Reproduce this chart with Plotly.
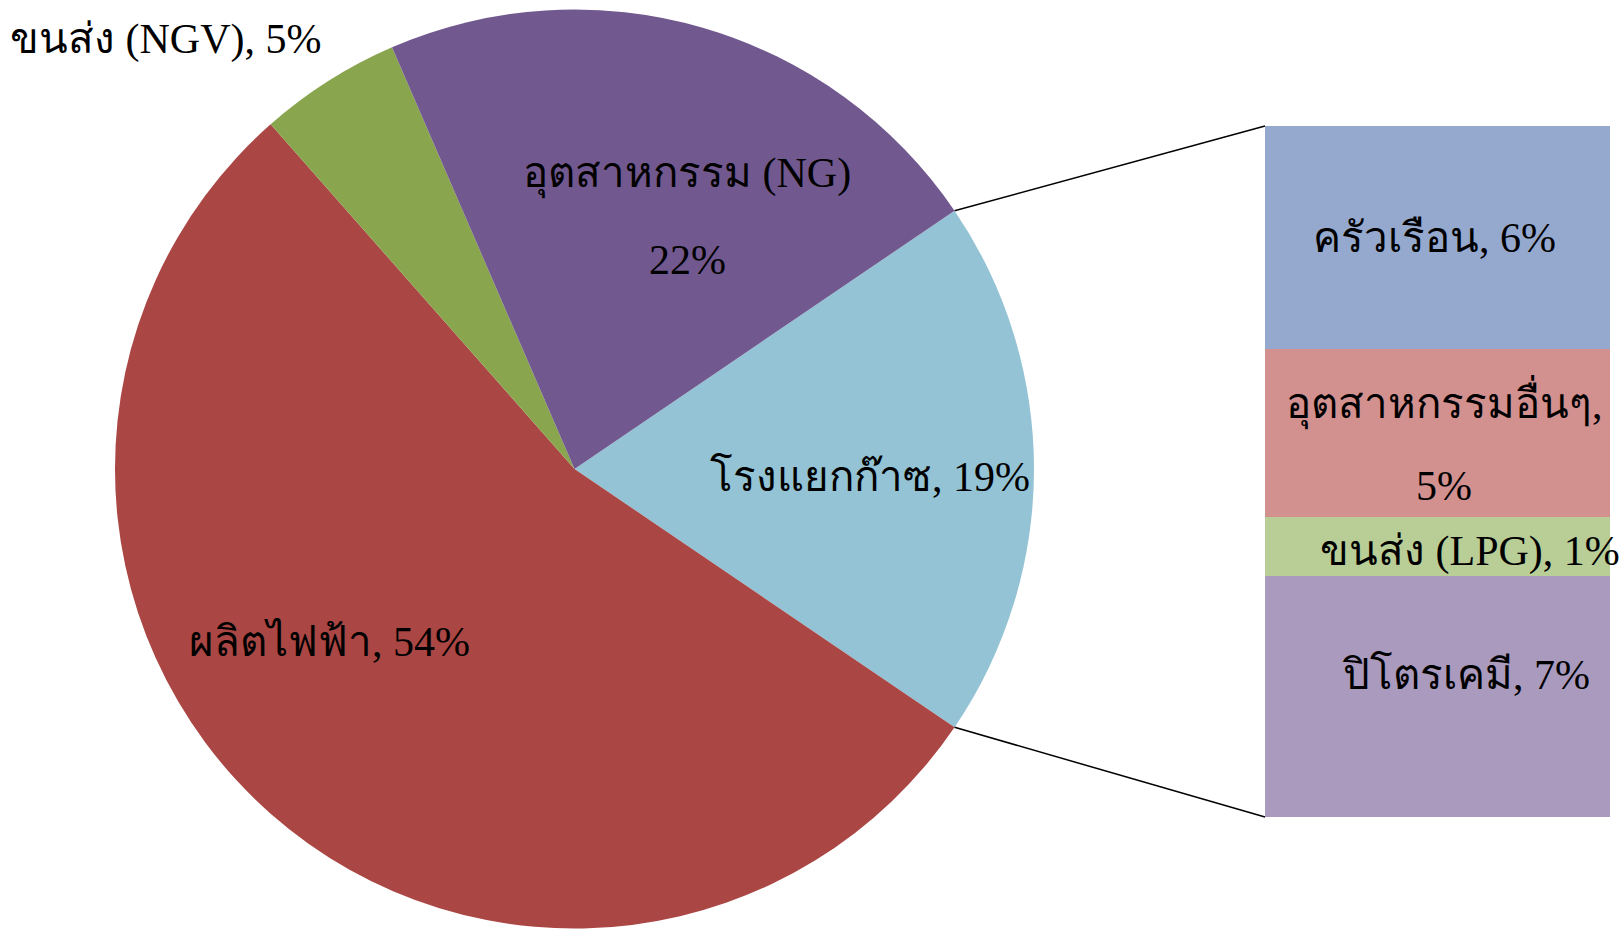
import math
import plotly.graph_objects as go

# ---------------- data ----------------
pie_labels = ["โรงแยกก๊าซ", "ผลิตไฟฟ้า", "ขนส่ง (NGV)", "อุตสาหกรรม (NG)"]
pie_values = [19, 54, 5, 22]
pie_colors = ["#93C3D4", "#AA4643", "#89A54E", "#71588F"]

bar_labels = ["ปิโตรเคมี", "ขนส่ง (LPG)", "อุตสาหกรรมอื่นๆ", "ครัวเรือน"]
bar_values = [6.6, 1.6, 4.6, 6.1]      # segment heights
bar_pct_text = [7, 1, 5, 6]            # percentages printed on the labels
bar_colors = ["#A99ABE", "#B9CD97", "#D2908F", "#95A9CE"]

W, H = 1621, 929
FONT = "Liberation Serif, Times New Roman, serif"
FS = 42

# ---------------- geometry (layout) ----------------
pie_cx, pie_cy, pie_r = 574.5, 469.0, 459.5      # pixels
bar_x0, bar_x1, bar_y0, bar_y1 = 1265, 1610, 126, 817

def px(x):
    return min(max(x / W, 0.0), 1.0)

def py(y):
    return min(max(1 - y / H, 0.0), 1.0)

fig = go.Figure()

# split slice is the first one; centre it on the horizontal right
half_angle = 360 * pie_values[0] / sum(pie_values) / 2
fig.add_trace(go.Pie(
    labels=pie_labels, values=pie_values, sort=False,
    direction="clockwise", rotation=90 - half_angle,
    marker=dict(colors=pie_colors, line=dict(width=0)),
    textinfo="none", hoverinfo="label+percent", showlegend=False,
    domain=dict(x=[px(pie_cx - pie_r), px(pie_cx + pie_r)],
                y=[py(pie_cy + pie_r), py(pie_cy - pie_r)]),
))

for lab, val, col in zip(bar_labels, bar_values, bar_colors):
    fig.add_trace(go.Bar(
        x=[0], y=[val], width=1, name=lab,
        marker=dict(color=col, line=dict(width=0)),
        showlegend=False, hoverinfo="name+y",
        xaxis="x", yaxis="y",
    ))

# connector lines from the split slice edges to the bar corners
a = math.radians(half_angle)
top_pt = (pie_cx + pie_r * math.cos(a), pie_cy - pie_r * math.sin(a))
bot_pt = (pie_cx + pie_r * math.cos(a), pie_cy + pie_r * math.sin(a))
shapes = [
    dict(type="line", xref="paper", yref="paper",
         x0=px(top_pt[0]), y0=py(top_pt[1]), x1=px(bar_x0), y1=py(bar_y0),
         line=dict(color="black", width=1.5)),
    dict(type="line", xref="paper", yref="paper",
         x0=px(bot_pt[0]), y0=py(bot_pt[1]), x1=px(bar_x0), y1=py(bar_y1),
         line=dict(color="black", width=1.5)),
]

def ann(text, x, y):
    return dict(text=text, x=px(x), y=py(y), xref="paper", yref="paper",
                showarrow=False, xanchor="center", yanchor="middle",
                font=dict(family=FONT, size=FS, color="black"))

annotations = [
    ann(f"{pie_labels[2]}, {pie_values[2]}%", 165, 39),
    ann(pie_labels[3], 687, 174),
    ann(f"{pie_values[3]}%", 687, 260),
    ann(f"{pie_labels[0]}, {pie_values[0]}%", 870, 476),
    ann(f"{pie_labels[1]}, {pie_values[1]}%", 329, 641),
    ann(f"{bar_labels[3]}, {bar_pct_text[3]}%", 1434, 238),
    ann(f"{bar_labels[2]},", 1444, 403),
    ann(f"{bar_pct_text[2]}%", 1444, 486),
    ann(f"{bar_labels[1]}, {bar_pct_text[1]}%", 1470, 551),
    ann(f"{bar_labels[0]}, {bar_pct_text[0]}%", 1466, 674),
]

fig.update_layout(
    width=W, height=H, margin=dict(l=0, r=0, t=0, b=0),
    paper_bgcolor="white", plot_bgcolor="white",
    barmode="stack", bargap=0,
    xaxis=dict(domain=[px(bar_x0), px(bar_x1)], range=[-0.5, 0.5],
               visible=False, fixedrange=True),
    yaxis=dict(domain=[py(bar_y1), py(bar_y0)], range=[0, sum(bar_values)],
               visible=False, fixedrange=True),
    shapes=shapes, annotations=annotations,
    font=dict(family=FONT, size=FS, color="black"),
)

fig.write_html("out.html", config={"displayModeBar": False})
with open("out.html", "r", encoding="utf-8") as f:
    html = f.read()
html = html.replace("<head>", "<head><style>html,body{margin:0;padding:0;overflow:hidden;}</style>", 1)
with open("out.html", "w", encoding="utf-8") as f:
    f.write(html)
